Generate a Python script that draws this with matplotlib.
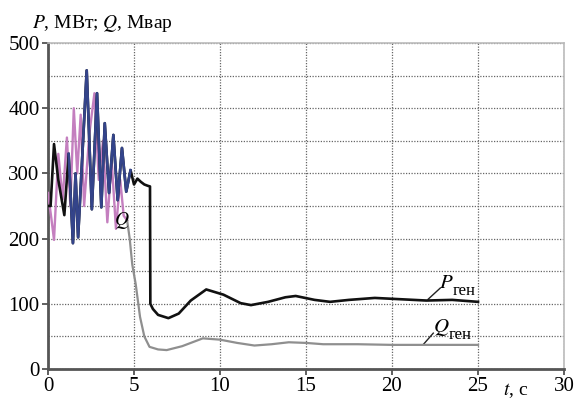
import matplotlib
matplotlib.use("Agg")
import matplotlib.pyplot as plt

plt.rcParams["mathtext.fontset"] = "stix"

# ---- data ----
p_t = [0, 0.15, 0.35, 0.6, 0.95, 1.2, 1.45, 1.6, 1.75, 2.0, 2.25, 2.55, 2.85, 3.1, 3.3,
       3.55, 3.8, 4.05, 4.3, 4.55, 4.8, 5.0, 5.2, 5.4, 5.6, 5.8, 5.93,
       5.95, 6.1, 6.4, 7.0, 7.6, 8.3, 9.2, 10.2, 11.2, 11.8, 12.8, 13.8, 14.4,
       15.5, 16.4, 17.5, 19.0, 20.5, 22.0, 23.5, 24.5, 25.0]
p_v = [250, 250, 345, 290, 236, 330, 193, 300, 202, 330, 458, 245, 423, 248, 377,
       270, 359, 259, 339, 272, 305, 283, 292, 287, 283, 281, 280,
       100, 92, 83, 78, 85, 105, 122, 114, 101, 98, 103, 110, 112,
       106, 103, 106, 109, 107, 105, 106, 104, 103]

q_osc_t = [0, 0.2, 0.35, 0.6, 0.85, 1.1, 1.3, 1.5, 1.7, 1.9, 2.1, 2.4, 2.7, 2.95, 3.2,
           3.45, 3.7, 3.95, 4.2, 4.4, 4.6]
q_osc_v = [270, 230, 198, 330, 260, 355, 250, 400, 300, 390, 250, 360, 423, 290, 350,
           225, 320, 215, 290, 235, 228]

q_t = [4.6, 4.75, 4.9, 5.1, 5.35, 5.6, 5.9, 6.4, 6.9, 7.8, 9.0, 10.0, 11.0, 12.0,
       13.0, 14.0, 15.0, 16.0, 18.0, 20.0, 22.0, 25.0]
q_v = [228, 200, 160, 130, 80, 50, 34, 30, 29, 35, 47, 45, 40, 36,
       38, 41, 40, 38, 38, 37, 37, 37]

blue_start, blue_end = 1.0, 4.8

x_ticks = [0, 5, 10, 15, 20, 25, 30]
y_ticks = [0, 100, 200, 300, 400, 500]

# ---- figure ----
W, H = 575, 400
fig = plt.figure(figsize=(W / 100, H / 100), dpi=100)
ax = fig.add_axes([48 / W, 1 - 369 / H, (564 - 48) / W, (369 - 43) / H])

serif = ["Liberation Serif", "DejaVu Serif"]

ax.set_xlim(0, 30)
ax.set_ylim(0, 500)
ax.set_xticks(x_ticks)
ax.set_yticks(y_ticks)
ax.set_yticks(range(0, 501, 50), minor=True)
ax.grid(True, which="both", linestyle=(0, (1.0, 1.2)), color="#666666", linewidth=0.9)
ax.set_axisbelow(True)
ax.tick_params(axis="both", which="major", labelsize=15, length=4, width=1.2,
               color="#444444", pad=2)
ax.tick_params(axis="y", which="minor", length=0)
for lab in ax.get_xticklabels() + ax.get_yticklabels():
    lab.set_family(serif)
for s in ["left", "bottom"]:
    ax.spines[s].set_color("#555555")
    ax.spines[s].set_linewidth(2)
for s in ["top", "right"]:
    ax.spines[s].set_color("#bbbbbb")
    ax.spines[s].set_linewidth(1.2)

# P curve (black) with coloured oscillation part
ax.plot(p_t, p_v, color="#111111", lw=1.9, zorder=4)
bt = [t for t in p_t if blue_start <= t <= blue_end]
bv = [v for t, v in zip(p_t, p_v) if blue_start <= t <= blue_end]
ax.plot(bt, bv, color="#34448a", lw=1.9, zorder=4)

# Q curve
ax.plot(q_osc_t, q_osc_v, color="#c47fbf", lw=1.7, zorder=3)
ax.plot(q_t, q_v, color="#8f8f8f", lw=1.6, zorder=3)

# labels
ax.plot([22.1, 22.8], [107, 124], color="#222222", lw=1)
ax.text(22.75, 124, r"$P$", fontsize=15, ha="left", va="baseline")
ax.text(23.5, 114, "ген", fontsize=12, family=serif, ha="left", va="baseline")
ax.plot([21.8, 22.4], [37, 55], color="#222222", lw=1)
ax.text(22.4, 56, r"$Q$", fontsize=15, ha="left", va="baseline")
ax.text(23.3, 46, "ген", fontsize=12, family=serif, ha="left", va="baseline")
ax.text(4.3, 228, r"$Q$", fontsize=14, ha="center", va="center")

fig.text(32 / W, 1 - 28 / H, r"$P$, МВт; $Q$, Мвар", fontsize=14, family=serif,
         ha="left", va="baseline")
fig.text(503 / W, 1 - 381 / H, r"$t$, с", fontsize=14, family=serif,
         ha="left", va="top")

fig.savefig("out.png", dpi=100)
